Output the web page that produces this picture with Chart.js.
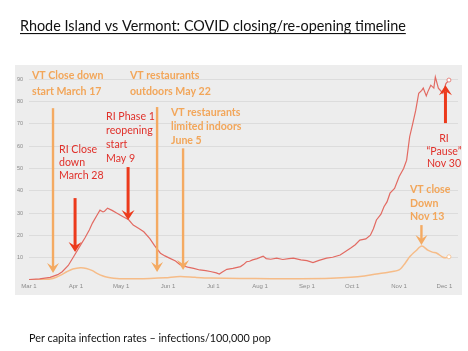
<!DOCTYPE html>
<html><head><meta charset="utf-8">
<script src="https://cdn.jsdelivr.net/npm/chart.js@4/dist/chart.umd.min.js"></script>
<style>html,body{margin:0;padding:0;background:#fff}canvas{display:block}</style>
</head><body><canvas id="c" width="468" height="351"></canvas>
<script>
// Day index 0 = March 1
const monthTickDays = [0,31,61,92,122,153,184,214,245,275];
const monthTickLabels = ['Mar 1','Apr 1','May 1','Jun 1','Jul 1','Aug 1','Sep 1','Oct 1','Nov 1','Dec 1'];
const yTickValues = [10,20,30,40,50,60,70,80,90];

const riDays = [0,7,14,19,22,26,30,34,37,40,42,45,47,49,50,52,55,58,62,66,69,73,76,80,83,87,90,93,97,100,105,109,113,117,120,124,126,128,131,135,140,142,144,146,148,151,155,157,160,164,168,172,175,180,184,188,192,197,201,206,209,213,216,219,223,226,228,230,233,235,237,239,242,245,248,250,252,254,256,258,260,261,263,264,266,268,269,271,274,276,278];
const riValues = [0.2,0.5,1.2,2.4,3.7,6.5,11,15.5,18.8,22.5,25.5,29,31.3,30.5,30.8,32.2,31.2,30,28.5,27,24.6,23,21.6,18.5,15.5,12,10.8,9.8,8.5,6.8,5.8,5.2,4.5,4.2,3.8,3.2,2.7,3.6,4.8,5.2,6,6.9,8.2,8.4,9,9.6,10.7,9.6,9.3,9.8,9.2,9.6,9.8,9,8.7,7.8,8.8,9.8,10.2,11.2,12.5,14.3,15.8,17.9,18.4,20.1,23,26.9,29.5,32.8,35,38.9,41,46.3,50,53.7,64.2,70,76,83.7,85,86,82.5,84.3,87.3,86,91,86,83.7,88,89.6];

const vtDays = [0,8,14,18,22,25,29,34,38,42,45,49,52,56,60,70,80,90,100,110,120,140,160,180,200,213,222,230,238,245,249,252,256,260,264,267,270,274,276,278];
const vtValues = [0,0.1,0.4,1.2,2.5,3.7,4.9,5.5,5.2,4.2,3,1.8,1.2,0.8,0.6,0.6,0.7,1,1.6,1.2,0.9,0.7,0.6,0.6,0.8,1.2,1.8,2.7,3.5,4.5,7.5,10.4,13,15.2,13.4,12.5,12,10.2,10,10.4];

// Annotation arrows (day index, start value, tip value)
const arrowDays  = [15.9, 84.8, 102, 259.8, 30.5, 65.6, 275.7];
const arrowFrom  = [77, 77.5, 59, 24.6, 36.7, 50.6, 70.3];
const arrowTo    = [3.1, 3.6, 4.5, 15.7, 12.5, 26.9, 87.3];
const arrowKind  = ['vt','vt','vt','vt','ri','ri','ri'];

const ORANGE_TXT = '#F2A65A';
const RED_TXT = '#E0302A';
const ORANGE_ARROW = '#F4AA62';
const RED_ARROW = '#EC3A1C';

const notes = [
  {c:'vt', lines:['VT Close down','start March 17'], x:32, y:76, dy:16, align:'left'},
  {c:'vt', lines:['VT restaurants','outdoors May 22'], x:130, y:76, dy:16, align:'left'},
  {c:'vt', lines:['VT restaurants','limited indoors','June 5'], x:171, y:113, dy:14, align:'left'},
  {c:'vt', lines:['VT close','Down','Nov 13'], x:410, y:190, dy:13.5, align:'left'},
  {c:'ri', lines:['RI Phase 1','reopening','start','May 9'], x:106, y:117, dy:14, align:'left'},
  {c:'ri', lines:['RI Close','down','March 28'], x:59, y:150, dy:13, align:'left'},
  {c:'ri', lines:['RI','\u201CPause\u201D','Nov 30'], x:444, y:139, dy:12.5, align:'center'}
];

const deco = {
  id:'deco',
  beforeDraw(chart){
    const ctx = chart.ctx;
    ctx.save();
    ctx.fillStyle = '#ffffff';
    ctx.fillRect(0,0,chart.width,chart.height);
    ctx.fillStyle = '#EDEDED';
    ctx.fillRect(15,65,447,230);
    ctx.restore();
  },
  afterDatasetsDraw(chart){
    const ctx = chart.ctx, xs = chart.scales.x, ys = chart.scales.y;
    ctx.save();
    arrowDays.forEach((d,i)=>{
      const x = xs.getPixelForValue(d);
      const y1 = ys.getPixelForValue(arrowFrom[i]);
      const y2 = ys.getPixelForValue(arrowTo[i]);
      const ri = arrowKind[i]==='ri';
      const col = ri ? RED_ARROW : ORANGE_ARROW;
      const lw = ri ? 3 : 2.4;
      const hw = ri ? 6.5 : 6;
      const hl = 10;
      const dir = y2 > y1 ? 1 : -1;
      ctx.strokeStyle = col; ctx.fillStyle = col; ctx.lineWidth = lw;
      ctx.beginPath();
      ctx.moveTo(x,y1); ctx.lineTo(x,y2 - dir*hl*0.6); ctx.stroke();
      ctx.beginPath();
      ctx.moveTo(x,y2);
      ctx.lineTo(x-hw,y2-dir*hl);
      ctx.lineTo(x,y2-dir*hl*0.6);
      ctx.lineTo(x+hw,y2-dir*hl);
      ctx.closePath(); ctx.fill();
    });
    ctx.restore();
  },
  afterDraw(chart){
    const ctx = chart.ctx;
    ctx.save();
    // title
    ctx.fillStyle = '#111';
    ctx.font = '14.4px Lato, "Open Sans", sans-serif';
    ctx.textBaseline = 'alphabetic';
    ctx.textAlign = 'left';
    const title = 'Rhode Island vs Vermont: COVID closing/re-opening timeline';
    ctx.fillText(title, 20, 31);
    const tw = ctx.measureText(title).width;
    ctx.fillRect(20, 33, tw, 1.1);
    // footer
    ctx.font = '10.8px Lato, "Open Sans", sans-serif';
    ctx.textBaseline = 'middle';
    ctx.fillText('Per capita infection rates \u2013 infections/100,000 pop', 29, 339);
    // notes
    notes.forEach(n=>{
      ctx.fillStyle = n.c==='vt' ? ORANGE_TXT : RED_TXT;
      ctx.font = (n.c==='vt' ? 'bold ' : '') + '10.6px Lato, "Open Sans", sans-serif';
      ctx.textAlign = n.align;
      ctx.textBaseline = 'middle';
      n.lines.forEach((t,k)=> ctx.fillText(t, n.x, n.y + k*n.dy));
    });
    ctx.restore();
  }
};

const riData = riDays.map((d,i)=>({x:d, y:riValues[i]}));
const vtData = vtDays.map((d,i)=>({x:d, y:vtValues[i]}));

new Chart(document.getElementById('c'), {
  type:'line',
  data:{datasets:[
    {label:'RI', data:riData, borderColor:'#E26A62', borderWidth:1.2, tension:0,
     pointRadius:c=>c.dataIndex===riData.length-1?2:0, pointBackgroundColor:'#fff', pointBorderColor:'#E26A62', pointBorderWidth:0.8},
    {label:'VT', data:vtData, borderColor:'#F6BC88', borderWidth:1.5, tension:0.3,
     pointRadius:c=>c.dataIndex===vtData.length-1?2:0, pointBackgroundColor:'#fff', pointBorderColor:'#F6BC88', pointBorderWidth:0.8}
  ]},
  options:{
    responsive:false, animation:false, devicePixelRatio:1,
    layout:{padding:{left:15, right:10, top:68, bottom:55}},
    plugins:{legend:{display:false}, tooltip:{enabled:false}},
    scales:{
      x:{type:'linear', min:0, max:284,
        afterBuildTicks:s=>{ s.ticks = monthTickDays.map(v=>({value:v})); },
        afterFit:s=>{ s.height = 16; },
        ticks:{callback:(v)=>monthTickLabels[monthTickDays.indexOf(v)], color:'#8a8a8a', font:{size:6, family:'"Liberation Sans", Arial'}, padding:3, maxRotation:0, autoSkip:false},
        grid:{display:false, drawTicks:false}, border:{display:false}},
      y:{min:0, max:95,
        afterBuildTicks:s=>{ s.ticks = yTickValues.map(v=>({value:v})); },
        afterFit:s=>{ s.width = 14; },
        ticks:{color:'#8a8a8a', font:{size:5.5, family:'"Liberation Sans", Arial'}, padding:6},
        grid:{color:'#DCDCDC', lineWidth:1, drawTicks:false}, border:{display:false}}
    }
  },
  plugins:[deco]
});
</script>
</body></html>
